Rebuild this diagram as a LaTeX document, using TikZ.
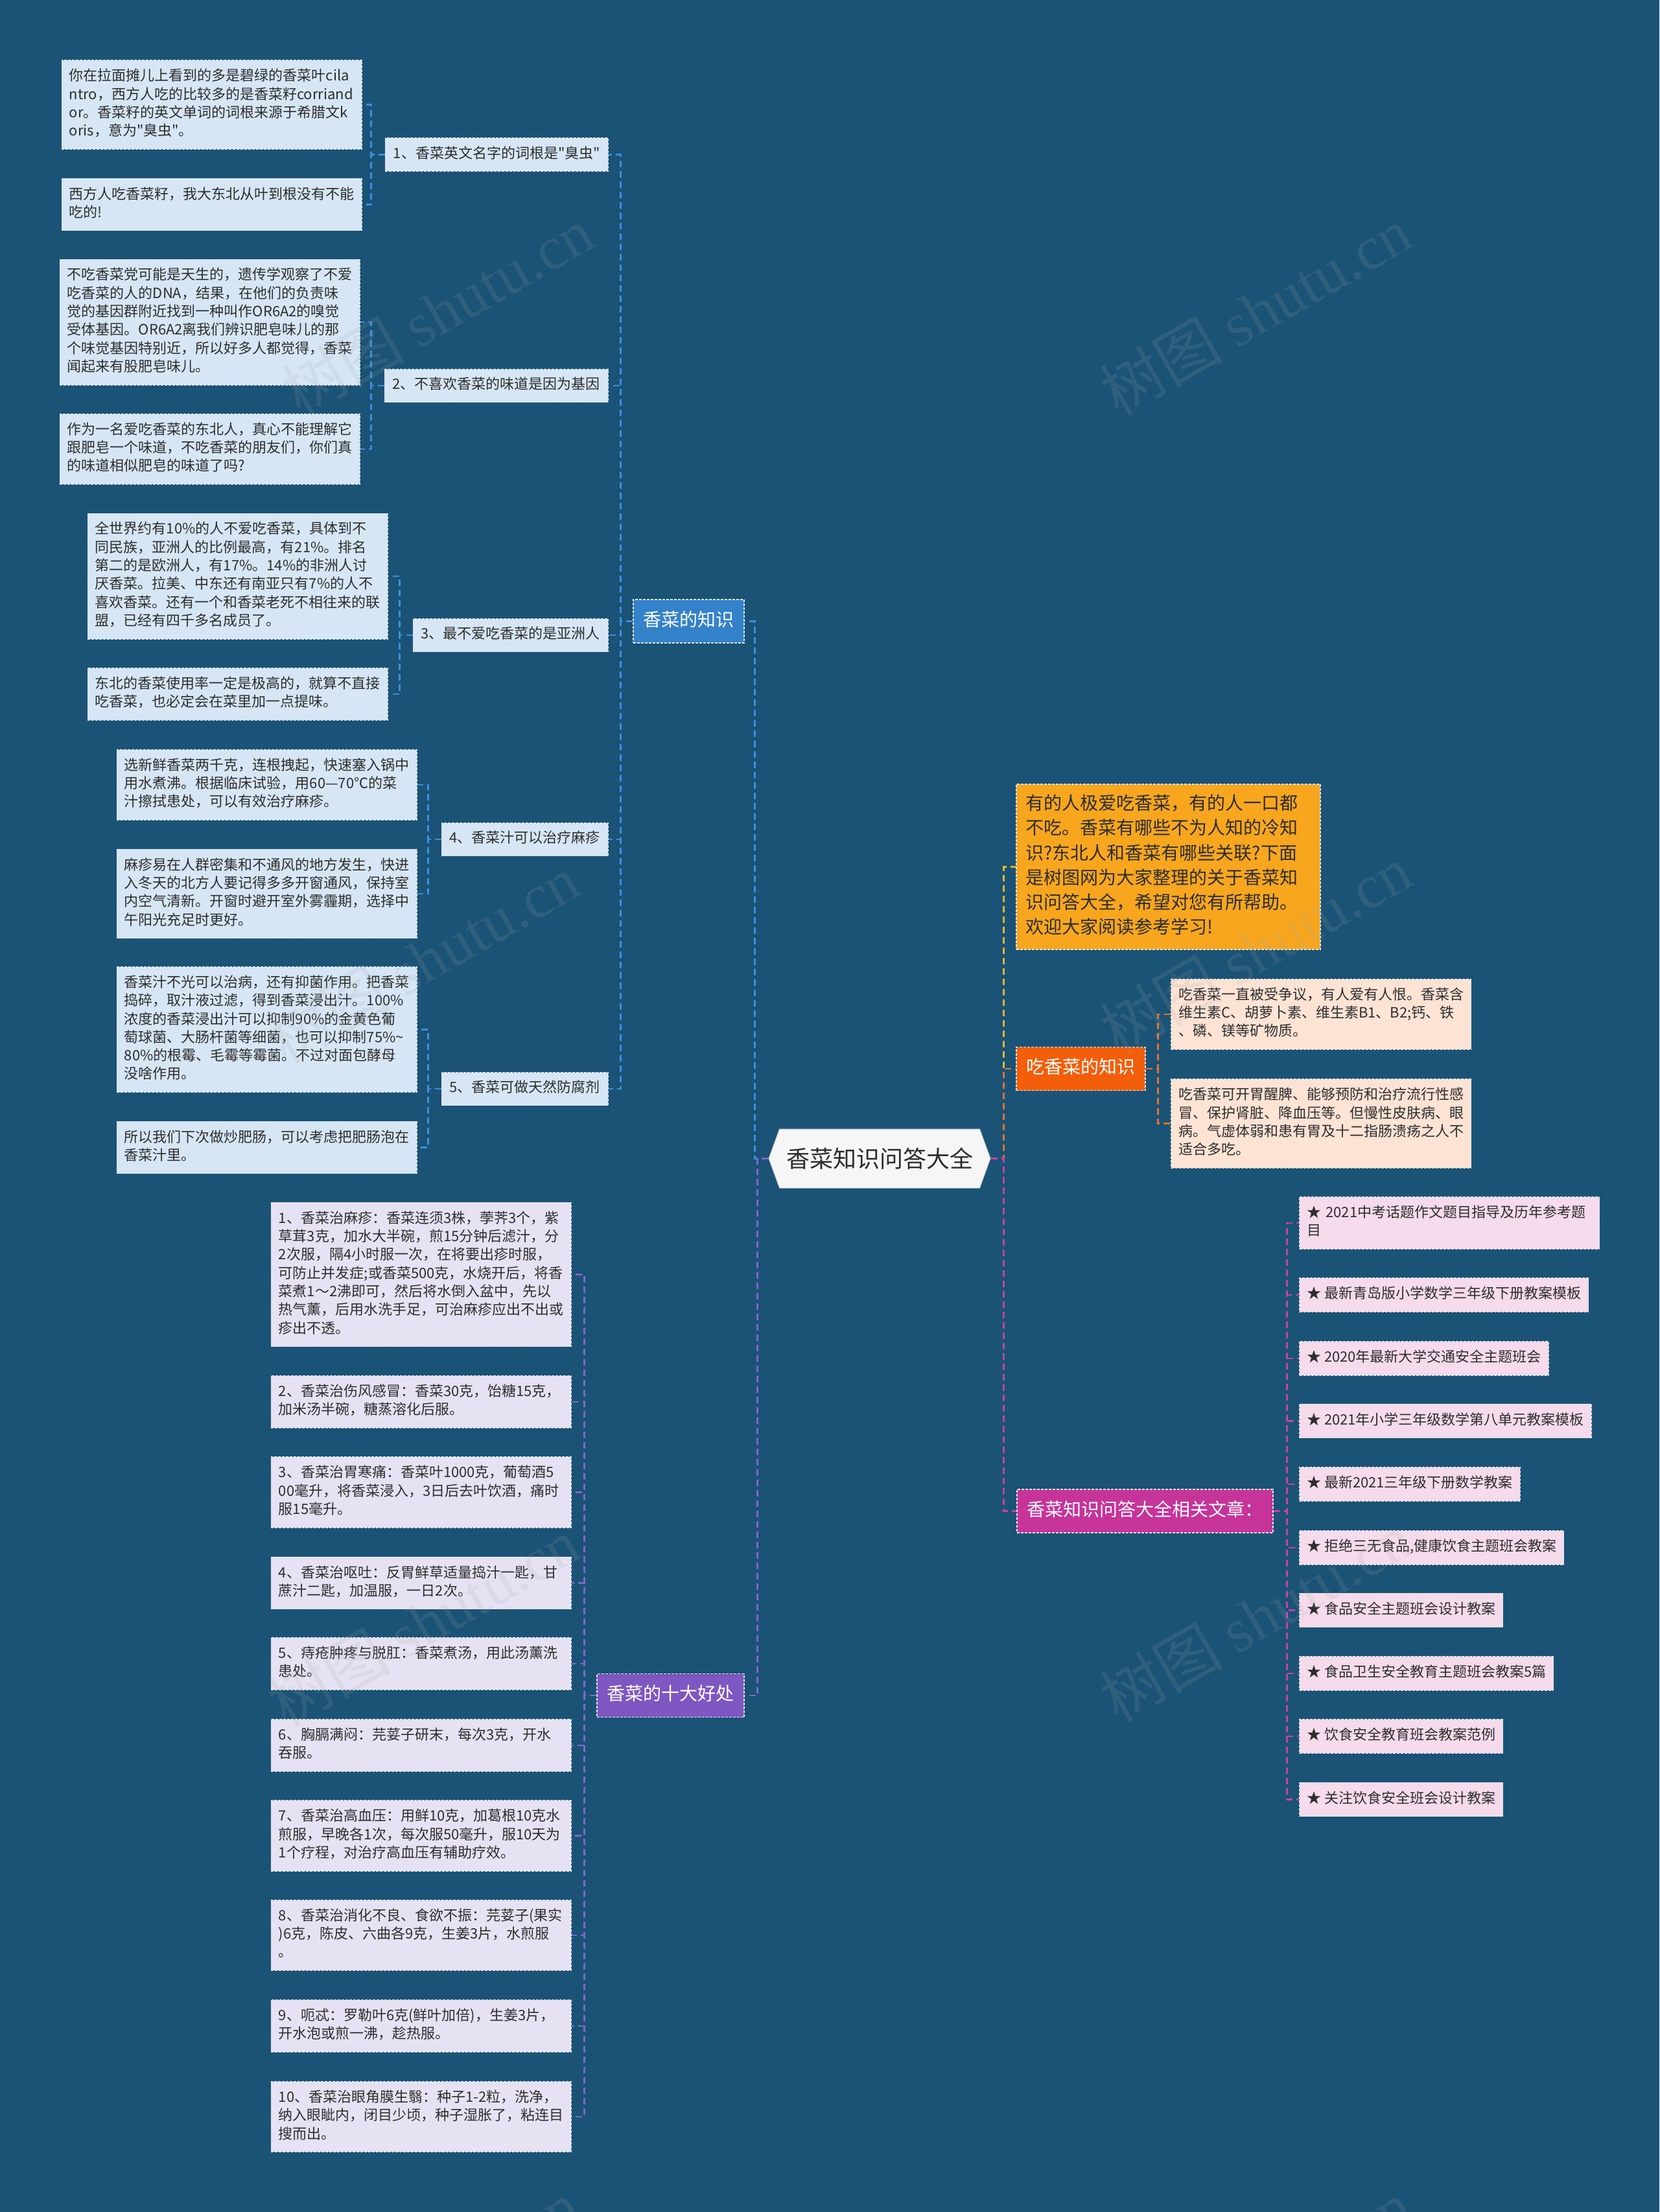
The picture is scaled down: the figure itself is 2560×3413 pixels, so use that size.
\documentclass[tikz,border=0pt]{standalone}
\usepackage{fontspec}
\setmainfont{Noto Sans CJK SC}[Ligatures=TeXOff]
\newfontfamily\wmserif{Liberation Serif}
\usetikzlibrary{shapes.symbols}
\definecolor{bg}{RGB}{26,83,118}
\definecolor{txt}{RGB}{45,45,45}
\definecolor{lblue}{RGB}{214,230,245}
\definecolor{nblue}{RGB}{52,130,202}
\definecolor{cblue}{RGB}{62,142,222}
\definecolor{lpurple}{RGB}{230,226,243}
\definecolor{npurple}{RGB}{126,87,194}
\definecolor{cpurple}{RGB}{132,100,204}
\definecolor{norange}{RGB}{247,166,30}
\definecolor{cyellow}{RGB}{240,180,40}
\definecolor{nred}{RGB}{242,94,10}
\definecolor{cred}{RGB}{236,112,40}
\definecolor{lpeach}{RGB}{252,227,212}
\definecolor{npink}{RGB}{198,52,154}
\definecolor{cpink}{RGB}{204,64,166}
\definecolor{lpink}{RGB}{245,219,235}
\definecolor{rootfill}{RGB}{246,246,246}
\tikzset{
  box/.style={rectangle, draw=white!78!gray, dash pattern=on 4pt off 2pt, line width=1.2pt,
    align=left, inner xsep=11.5pt, inner ysep=12pt,
    execute at begin node=\strut, execute at end node=\strut},
  f22/.style={font=\fontsize{22}{28.3}\selectfont},
  f28/.style={font=\fontsize{28}{38.3}\selectfont},
  leaf/.style={box, f22, text width=440pt, text=txt},
  blueleaf/.style={leaf, fill=lblue, anchor=east},
  purpleleaf/.style={leaf, fill=lpurple, anchor=east},
  peachleaf/.style={leaf, fill=lpeach, anchor=west},
  pinkleaf/.style={box, f22, fill=lpink, text=txt, anchor=west},
  subnode/.style={box, f22, fill=lblue, text=txt, anchor=east, inner xsep=12.5pt, inner ysep=11.35pt},
  mainnode/.style={box, f28, text=white, inner xsep=15.5pt, inner ysep=14.35pt},
  rootshape/.style={signal, signal to=west and east, signal pointer angle=140,
    fill=rootfill, draw=gray!45, line width=1pt, minimum width=342pt, minimum height=91pt,
    inner sep=0pt, font=\fontsize{36}{40}\selectfont, text=txt},
  conn/.style={line width=2.5pt, dash pattern=on 10pt off 6pt},
  lb/.style={conn, draw=cblue},
  lp/.style={conn, draw=cpurple},
  ly/.style={conn, draw=cyellow},
  lr/.style={conn, draw=cred},
  lk/.style={conn, draw=cpink},
  wm/.style={text=gray!70, opacity=0.15, font=\fontsize{95}{100}\selectfont, rotate=30}
}
\begin{document}
\begin{tikzpicture}[x=1pt,y=-1pt]
\fill[bg] (0,0) rectangle (2560,3413);
\useasboundingbox (0,0) rectangle (2560,3413);

% root
\node[rootshape] (root) at (1357,1787.5) {香菜知识问答大全};

% ---------- left: 香菜的知识 ----------
\node[mainnode, fill=nblue] (know) at (1062.5,958.5) {香菜的知识};
\node[subnode] (n1) at (939,238.5) {1、香菜英文名字的词根是"臭虫"};
\node[subnode] (n2) at (939,595) {2、不喜欢香菜的味道是因为基因};
\node[subnode] (n3) at (939,980) {3、最不爱吃香菜的是亚洲人};
\node[subnode] (n4) at (939,1295) {4、香菜汁可以治疗麻疹};
\node[subnode] (n5) at (939,1680) {5、香菜可做天然防腐剂};

\node[blueleaf] (a1) at (559,161.5) {你在拉面摊儿上看到的多是碧绿的香菜叶cila\\ntro，西方人吃的比较多的是香菜籽corriand\\or。香菜籽的英文单词的词根来源于希腊文k\\oris，意为"臭虫"。};
\node[blueleaf] (a2) at (559,315.5) {西方人吃香菜籽，我大东北从叶到根没有不能\\吃的!};
\node[blueleaf] (b1) at (556,497) {不吃香菜党可能是天生的，遗传学观察了不爱\\吃香菜的人的DNA，结果，在他们的负责味\\觉的基因群附近找到一种叫作OR6A2的嗅觉\\受体基因。OR6A2离我们辨识肥皂味儿的那\\个味觉基因特别近，所以好多人都觉得，香菜\\闻起来有股肥皂味儿。};
\node[blueleaf] (b2) at (556,693) {作为一名爱吃香菜的东北人，真心不能理解它\\跟肥皂一个味道，不吃香菜的朋友们，你们真\\的味道相似肥皂的味道了吗?};
\node[blueleaf] (c1) at (599,889) {全世界约有10\%的人不爱吃香菜，具体到不\\同民族，亚洲人的比例最高，有21\%。排名\\第二的是欧洲人，有17\%。14\%的非洲人讨\\厌香菜。拉美、中东还有南亚只有7\%的人不\\喜欢香菜。还有一个和香菜老死不相往来的联\\盟，已经有四千多名成员了。};
\node[blueleaf] (c2) at (599,1071) {东北的香菜使用率一定是极高的，就算不直接\\吃香菜，也必定会在菜里加一点提味。};
\node[blueleaf] (d1) at (644,1211) {选新鲜香菜两千克，连根拽起，快速塞入锅中\\用水煮沸。根据临床试验，用60—70℃的菜\\汁擦拭患处，可以有效治疗麻疹。};
\node[blueleaf] (d2) at (644,1379) {麻疹易在人群密集和不通风的地方发生，快进\\入冬天的北方人要记得多多开窗通风，保持室\\内空气清新。开窗时避开室外雾霾期，选择中\\午阳光充足时更好。};
\node[blueleaf] (e1) at (644,1588.5) {香菜汁不光可以治病，还有抑菌作用。把香菜\\捣碎，取汁液过滤，得到香菜浸出汁。100\%\\浓度的香菜浸出汁可以抑制90\%的金黄色葡\\萄球菌、大肠杆菌等细菌，也可以抑制75\%\textasciitilde\\80\%的根霉、毛霉等霉菌。不过对面包酵母\\没啥作用。};
\node[blueleaf] (e2) at (644,1770.5) {所以我们下次做炒肥肠，可以考虑把肥肠泡在\\香菜汁里。};

% ---------- left: 香菜的十大好处 ----------
\node[mainnode, fill=npurple] (benefit) at (1034.5,2616) {香菜的十大好处};
\node[purpleleaf] (f1) at (882,1966.5) {1、香菜治麻疹：香菜连须3株，荸荠3个，紫\\草茸3克，加水大半碗，煎15分钟后滤汁，分\\2次服，隔4小时服一次，在将要出疹时服，\\可防止并发症;或香菜500克，水烧开后，将香\\菜煮1～2沸即可，然后将水倒入盆中，先以\\热气薰，后用水洗手足，可治麻疹应出不出或\\疹出不透。};
\node[purpleleaf] (f2) at (882,2163) {2、香菜治伤风感冒：香菜30克，饴糖15克，\\加米汤半碗，糖蒸溶化后服。};
\node[purpleleaf] (f3) at (882,2302.5) {3、香菜治胃寒痛：香菜叶1000克，葡萄酒5\\00毫升，将香菜浸入，3日后去叶饮酒，痛时\\服15毫升。};
\node[purpleleaf] (f4) at (882,2442.5) {4、香菜治呕吐：反胃鲜草适量捣汁一匙，甘\\蔗汁二匙，加温服，一日2次。};
\node[purpleleaf] (f5) at (882,2567) {5、痔疮肿疼与脱肛：香菜煮汤，用此汤薰洗\\患处。};
\node[purpleleaf] (f6) at (882,2693) {6、胸膈满闷：芫荽子研末，每次3克，开水\\吞服。};
\node[purpleleaf] (f7) at (882,2832.5) {7、香菜治高血压：用鲜10克，加葛根10克水\\煎服，早晚各1次，每次服50毫升，服10天为\\1个疗程，对治疗高血压有辅助疗效。};
\node[purpleleaf] (f8) at (882,2986) {8、香菜治消化不良、食欲不振：芫荽子(果实\\)6克，陈皮、六曲各9克，生姜3片，水煎服\\。};
\node[purpleleaf] (f9) at (882,3126) {9、呃忒：罗勒叶6克(鲜叶加倍)，生姜3片，\\开水泡或煎一沸，趁热服。};
\node[purpleleaf] (f10) at (882,3266) {10、香菜治眼角膜生翳：种子1-2粒，洗净，\\纳入眼眦内，闭目少顷，种子湿胀了，粘连目\\搜而出。};

% ---------- right ----------
\node[box, f28, fill=norange, text=txt, text width=440pt, inner xsep=14.5pt, inner ysep=12.6pt] (intro) at (1802.5,1337.5) {有的人极爱吃香菜，有的人一口都\\不吃。香菜有哪些不为人知的冷知\\识?东北人和香菜有哪些关联?下面\\是树图网为大家整理的关于香菜知\\识问答大全，希望对您有所帮助。\\欢迎大家阅读参考学习!};

\node[mainnode, fill=nred] (eat) at (1667.5,1649) {吃香菜的知识};
\node[peachleaf] (g1) at (1806,1565) {吃香菜一直被受争议，有人爱有人恨。香菜含\\维生素C、胡萝卜素、维生素B1、B2;钙、铁\\、磷、镁等矿物质。};
\node[peachleaf] (g2) at (1806,1733.5) {吃香菜可开胃醒脾、能够预防和治疗流行性感\\冒、保护肾脏、降血压等。但慢性皮肤病、眼\\病。气虚体弱和患有胃及十二指肠溃疡之人不\\适合多吃。};

\node[mainnode, fill=npink] (rel) at (1766.5,2331.5) {香菜知识问答大全相关文章：};
\node[pinkleaf, text width=440pt] (h1) at (2004,1887) {★ 2021中考话题作文题目指导及历年参考题\\目};
\node[pinkleaf] (h2) at (2004,1998) {★ 最新青岛版小学数学三年级下册教案模板};
\node[pinkleaf] (h3) at (2004,2096) {★ 2020年最新大学交通安全主题班会};
\node[pinkleaf] (h4) at (2004,2192.5) {★ 2021年小学三年级数学第八单元教案模板};
\node[pinkleaf] (h5) at (2004,2290) {★ 最新2021三年级下册数学教案};
\node[pinkleaf] (h6) at (2004,2388) {★ 拒绝三无食品,健康饮食主题班会教案};
\node[pinkleaf] (h7) at (2004,2484.5) {★ 食品安全主题班会设计教案};
\node[pinkleaf] (h8) at (2004,2582) {★ 食品卫生安全教育主题班会教案5篇};
\node[pinkleaf] (h9) at (2004,2679) {★ 饮食安全教育班会教案范例};
\node[pinkleaf] (h10) at (2004,2776.5) {★ 关注饮食安全班会设计教案};

% ---------- connectors ----------
\draw[lb] (root.west) -- ++(-21,0) |- (know.east);
\draw[lp] (root.west) -- ++(-17,0) |- (benefit.east);
\draw[ly] (root.east) -- ++(20,0) |- (intro.west);
\draw[lr] (root.east) -- ++(20,0) |- (eat.west);
\draw[lk] (root.east) -- ++(20,0) |- (rel.west);

\foreach \n in {n1,n2,n3,n4,n5} \draw[lb] (know.west) -- ++(-19,0) |- (\n.east);
\foreach \l in {a1,a2} \draw[lb] (n1.west) -- ++(-21,0) |- (\l.east);
\foreach \l in {b1,b2} \draw[lb] (n2.west) -- ++(-20,0) |- (\l.east);
\foreach \l in {c1,c2} \draw[lb] (n3.west) -- ++(-20,0) |- (\l.east);
\foreach \l in {d1,d2} \draw[lb] (n4.west) -- ++(-20,0) |- (\l.east);
\foreach \l in {e1,e2} \draw[lb] (n5.west) -- ++(-20,0) |- (\l.east);
\foreach \l in {f1,f2,f3,f4,f5,f6,f7,f8,f9,f10} \draw[lp] (benefit.west) -- ++(-19,0) |- (\l.east);
\foreach \l in {g1,g2} \draw[lr] (eat.east) -- ++(19,0) |- (\l.west);
\foreach \l in {h1,h2,h3,h4,h5,h6,h7,h8,h9,h10} \draw[lk] (rel.east) -- ++(21,0) |- (\l.west);

% ---------- watermarks ----------
\foreach \p in {(675,480),(1937,480),(653,1480),(1937,1465),(653,2503),(1937,2495),(653,3525),(1937,3525)}
  \node[wm] at \p {树图 {\wmserif shutu.cn}};
\end{tikzpicture}
\end{document}
